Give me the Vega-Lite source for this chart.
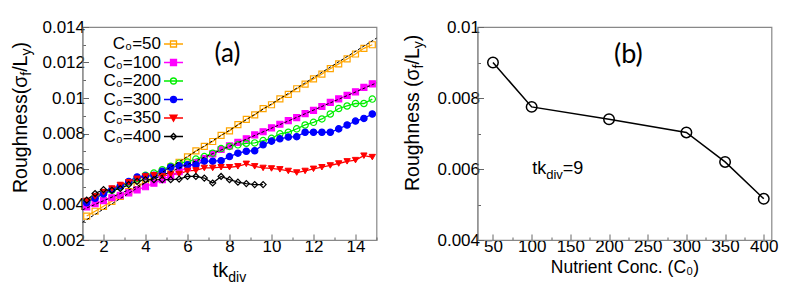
{
  "$schema": "https://vega.github.io/schema/vega-lite/v6.json",
  "padding": {"left": 10.5, "top": 17, "right": 5, "bottom": 5},
  "spacing": 23,
  "background": "white",
  "config": {
    "view": {"stroke": "#888888", "strokeWidth": 1.2},
    "axis": {"domainColor": "#888888", "tickColor": "#666666", "labelFont": "Liberation Sans", "labelFontSize": 17, "labelColor": "black", "grid": false, "titleFont": "Liberation Sans", "titleFontSize": 17.5, "titleFontWeight": "normal", "titleColor": "black"},
    "text": {"font": "Liberation Sans", "color": "black"}
  },
  "datasets": {
    "a": [
      {"s":"50","t":1.2,"v":0.00335},{"s":"50","t":1.6,"v":0.00362},{"s":"50","t":2.0,"v":0.00390},{"s":"50","t":2.4,"v":0.00418},{"s":"50","t":2.8,"v":0.00445},{"s":"50","t":3.2,"v":0.00473},{"s":"50","t":3.6,"v":0.00500},{"s":"50","t":4.0,"v":0.00528},{"s":"50","t":4.4,"v":0.00556},{"s":"50","t":4.8,"v":0.00583},{"s":"50","t":5.2,"v":0.00611},{"s":"50","t":5.6,"v":0.00638},{"s":"50","t":6.0,"v":0.00668},{"s":"50","t":6.4,"v":0.00702},{"s":"50","t":6.8,"v":0.00727},{"s":"50","t":7.2,"v":0.00755},{"s":"50","t":7.6,"v":0.00790},{"s":"50","t":8.0,"v":0.00815},{"s":"50","t":8.4,"v":0.00850},{"s":"50","t":8.8,"v":0.00880},{"s":"50","t":9.2,"v":0.00905},{"s":"50","t":9.6,"v":0.00940},{"s":"50","t":10.0,"v":0.00962},{"s":"50","t":10.4,"v":0.00995},{"s":"50","t":10.8,"v":0.01020},{"s":"50","t":11.2,"v":0.01052},{"s":"50","t":11.6,"v":0.01078},{"s":"50","t":12.0,"v":0.01108},{"s":"50","t":12.4,"v":0.01135},{"s":"50","t":12.8,"v":0.01165},{"s":"50","t":13.2,"v":0.01192},{"s":"50","t":13.6,"v":0.01220},{"s":"50","t":14.0,"v":0.01248},{"s":"50","t":14.4,"v":0.01280},{"s":"50","t":14.8,"v":0.01300},
      {"s":"100","t":1.2,"v":0.00386},{"s":"100","t":1.6,"v":0.00405},{"s":"100","t":2.0,"v":0.00422},{"s":"100","t":2.4,"v":0.00438},{"s":"100","t":2.8,"v":0.00452},{"s":"100","t":3.2,"v":0.00466},{"s":"100","t":3.6,"v":0.00482},{"s":"100","t":4.0,"v":0.00500},{"s":"100","t":4.4,"v":0.00520},{"s":"100","t":4.8,"v":0.00540},{"s":"100","t":5.2,"v":0.00562},{"s":"100","t":5.6,"v":0.00585},{"s":"100","t":6.0,"v":0.00610},{"s":"100","t":6.4,"v":0.00635},{"s":"100","t":6.8,"v":0.00658},{"s":"100","t":7.2,"v":0.00685},{"s":"100","t":7.6,"v":0.00710},{"s":"100","t":8.0,"v":0.00730},{"s":"100","t":8.4,"v":0.00750},{"s":"100","t":8.8,"v":0.00770},{"s":"100","t":9.2,"v":0.00792},{"s":"100","t":9.6,"v":0.00810},{"s":"100","t":10.0,"v":0.00832},{"s":"100","t":10.4,"v":0.00852},{"s":"100","t":10.8,"v":0.00872},{"s":"100","t":11.2,"v":0.00890},{"s":"100","t":11.6,"v":0.00912},{"s":"100","t":12.0,"v":0.00930},{"s":"100","t":12.4,"v":0.00952},{"s":"100","t":12.8,"v":0.00975},{"s":"100","t":13.2,"v":0.00995},{"s":"100","t":13.6,"v":0.01015},{"s":"100","t":14.0,"v":0.01035},{"s":"100","t":14.4,"v":0.01060},{"s":"100","t":14.8,"v":0.01080},
      {"s":"200","t":1.2,"v":0.00415},{"s":"200","t":1.6,"v":0.00440},{"s":"200","t":2.0,"v":0.00460},{"s":"200","t":2.4,"v":0.00480},{"s":"200","t":2.8,"v":0.00500},{"s":"200","t":3.2,"v":0.00522},{"s":"200","t":3.6,"v":0.00545},{"s":"200","t":4.0,"v":0.00565},{"s":"200","t":4.4,"v":0.00577},{"s":"200","t":4.8,"v":0.00596},{"s":"200","t":5.2,"v":0.00615},{"s":"200","t":5.6,"v":0.00633},{"s":"200","t":6.0,"v":0.00640},{"s":"200","t":6.4,"v":0.00656},{"s":"200","t":6.8,"v":0.00670},{"s":"200","t":7.2,"v":0.00689},{"s":"200","t":7.6,"v":0.00715},{"s":"200","t":8.0,"v":0.00727},{"s":"200","t":8.4,"v":0.00736},{"s":"200","t":8.8,"v":0.00745},{"s":"200","t":9.2,"v":0.00747},{"s":"200","t":9.6,"v":0.00760},{"s":"200","t":10.0,"v":0.00773},{"s":"200","t":10.4,"v":0.00798},{"s":"200","t":10.8,"v":0.00807},{"s":"200","t":11.2,"v":0.00826},{"s":"200","t":11.6,"v":0.00848},{"s":"200","t":12.0,"v":0.00863},{"s":"200","t":12.4,"v":0.00882},{"s":"200","t":12.8,"v":0.00910},{"s":"200","t":13.2,"v":0.00941},{"s":"200","t":13.6,"v":0.00955},{"s":"200","t":14.0,"v":0.00969},{"s":"200","t":14.4,"v":0.00969},{"s":"200","t":14.8,"v":0.00994},
      {"s":"300","t":1.2,"v":0.00410},{"s":"300","t":1.6,"v":0.00435},{"s":"300","t":2.0,"v":0.00460},{"s":"300","t":2.4,"v":0.00485},{"s":"300","t":2.8,"v":0.00505},{"s":"300","t":3.2,"v":0.00530},{"s":"300","t":3.6,"v":0.00555},{"s":"300","t":4.0,"v":0.00560},{"s":"300","t":4.4,"v":0.00565},{"s":"300","t":4.8,"v":0.00587},{"s":"300","t":5.2,"v":0.00610},{"s":"300","t":5.6,"v":0.00618},{"s":"300","t":6.0,"v":0.00624},{"s":"300","t":6.4,"v":0.00624},{"s":"300","t":6.8,"v":0.00644},{"s":"300","t":7.2,"v":0.00644},{"s":"300","t":7.6,"v":0.00647},{"s":"300","t":8.0,"v":0.00670},{"s":"300","t":8.4,"v":0.00689},{"s":"300","t":8.8,"v":0.00700},{"s":"300","t":9.2,"v":0.00703},{"s":"300","t":9.6,"v":0.00736},{"s":"300","t":10.0,"v":0.00757},{"s":"300","t":10.4,"v":0.00770},{"s":"300","t":10.8,"v":0.00780},{"s":"300","t":11.2,"v":0.00782},{"s":"300","t":11.6,"v":0.00807},{"s":"300","t":12.0,"v":0.00807},{"s":"300","t":12.4,"v":0.00807},{"s":"300","t":12.8,"v":0.00807},{"s":"300","t":13.2,"v":0.00826},{"s":"300","t":13.6,"v":0.00848},{"s":"300","t":14.0,"v":0.00870},{"s":"300","t":14.4,"v":0.00885},{"s":"300","t":14.8,"v":0.00910},
      {"s":"350","t":1.2,"v":0.00420},{"s":"350","t":1.6,"v":0.00445},{"s":"350","t":2.0,"v":0.00470},{"s":"350","t":2.4,"v":0.00490},{"s":"350","t":2.8,"v":0.00510},{"s":"350","t":3.2,"v":0.00525},{"s":"350","t":3.6,"v":0.00545},{"s":"350","t":4.0,"v":0.00558},{"s":"350","t":4.4,"v":0.00565},{"s":"350","t":4.8,"v":0.00560},{"s":"350","t":5.2,"v":0.00570},{"s":"350","t":5.6,"v":0.00572},{"s":"350","t":6.0,"v":0.00589},{"s":"350","t":6.4,"v":0.00592},{"s":"350","t":6.8,"v":0.00606},{"s":"350","t":7.2,"v":0.00606},{"s":"350","t":7.6,"v":0.00610},{"s":"350","t":8.0,"v":0.00610},{"s":"350","t":8.4,"v":0.00615},{"s":"350","t":8.8,"v":0.00629},{"s":"350","t":9.2,"v":0.00615},{"s":"350","t":9.6,"v":0.00606},{"s":"350","t":10.0,"v":0.00603},{"s":"350","t":10.4,"v":0.00598},{"s":"350","t":10.8,"v":0.00589},{"s":"350","t":11.2,"v":0.00580},{"s":"350","t":11.6,"v":0.00589},{"s":"350","t":12.0,"v":0.00601},{"s":"350","t":12.4,"v":0.00610},{"s":"350","t":12.8,"v":0.00620},{"s":"350","t":13.2,"v":0.00631},{"s":"350","t":13.6,"v":0.00643},{"s":"350","t":14.0,"v":0.00650},{"s":"350","t":14.4,"v":0.00675},{"s":"350","t":14.8,"v":0.00667},
      {"s":"400","t":1.2,"v":0.00425},{"s":"400","t":1.6,"v":0.00462},{"s":"400","t":2.0,"v":0.00484},{"s":"400","t":2.4,"v":0.00480},{"s":"400","t":2.8,"v":0.00490},{"s":"400","t":3.2,"v":0.00512},{"s":"400","t":3.6,"v":0.00530},{"s":"400","t":4.0,"v":0.00540},{"s":"400","t":4.4,"v":0.00540},{"s":"400","t":4.8,"v":0.00540},{"s":"400","t":5.2,"v":0.00540},{"s":"400","t":5.6,"v":0.00543},{"s":"400","t":6.0,"v":0.00558},{"s":"400","t":6.4,"v":0.00558},{"s":"400","t":6.8,"v":0.00549},{"s":"400","t":7.2,"v":0.00521},{"s":"400","t":7.6,"v":0.00558},{"s":"400","t":8.0,"v":0.00540},{"s":"400","t":8.4,"v":0.00526},{"s":"400","t":8.8,"v":0.00518},{"s":"400","t":9.2,"v":0.00512},{"s":"400","t":9.6,"v":0.00512}
    ],
    "fit": [
      {"s":"50","t":1,"v":0.0030},{"s":"50","t":15,"v":0.01337},
      {"s":"100","t":1,"v":0.0037},{"s":"100","t":15,"v":0.01085}
    ],
    "b": [
      {"c":50,"v":0.0090},{"c":100,"v":0.00775},{"c":200,"v":0.0074},{"c":300,"v":0.00703},{"c":350,"v":0.0062},{"c":400,"v":0.00516}
    ]
  },
  "hconcat": [
    {
      "width": 294,
      "height": 213,
      "resolve": {"axis": {"x": "independent", "y": "independent"}},
      "layer": [
        {
          "encoding": {
            "x": {"field": "t", "type": "quantitative", "scale": {"domain": [1, 15], "nice": false, "zero": false},
              "axis": {"title": null, "values": [1,2,3,4,5,6,7,8,9,10,11,12,13,14,15], "format": "d",
                "labelExpr": "datum.value % 2 == 0 ? datum.label : ''",
                "tickSize": {"condition": {"test": "datum.value % 2 == 0", "value": -6}, "value": -3},
                "labelPadding": 4}},
            "y": {"field": "v", "type": "quantitative", "scale": {"domain": [0.002, 0.014], "nice": false, "zero": false},
              "axis": {"title": null, "values": [0.002,0.003,0.004,0.005,0.006,0.007,0.008,0.009,0.01,0.011,0.012,0.013,0.014],
                "labelExpr": "round(datum.value*1000) % 2 == 0 ? format(datum.value, '.3~f') : ''",
                "tickSize": {"condition": {"test": "round(datum.value*1000) % 2 == 0", "value": -6}, "value": -3},
                "labelPadding": 4}}
          },
          "layer": [
            {
              "data": {"name": "a"},
              "mark": {"type": "line", "strokeWidth": 1.3},
              "encoding": {
                "color": {"field": "s", "type": "nominal",
                  "scale": {"domain": ["50","100","200","300","350","400"], "range": ["#FFA500","#FF00FF","#00EE00","#0000FF","#FF0000","#000000"]},
                  "legend": {"orient": "none", "legendX": 82.5, "legendY": 8.5, "title": null,
                    "labelExpr": "'C₀=' + datum.label", "labelFont": "Liberation Sans", "labelFontSize": 17, "labelColor": "black",
                    "labelAlign": "right", "labelOffset": -21, "symbolSize": 100, "symbolStrokeWidth": 1.3, "rowPadding": 0.5,
                    "encode": {"symbols": {"update": {
                      "shape": {"signal": "(datum.value=='50' || datum.value=='100') ? 'M-1.9,0H1.9M-0.6,-0.6H0.6V0.6H-0.6Z' : (datum.value=='200' || datum.value=='300') ? 'M-1.9,0H1.9M-0.6,0A0.6,0.6 0 1,0 0.6,0A0.6,0.6 0 1,0 -0.6,0Z' : datum.value=='350' ? 'M-1.9,0H1.9M-0.7,-0.55H0.7L0,0.65Z' : 'M-1.9,0H1.9M0,-0.6L0.6,0L0,0.6L-0.6,0Z'"},
                      "fill": {"signal": "datum.value=='100' ? '#FF00FF' : datum.value=='300' ? '#0000FF' : datum.value=='350' ? '#FF0000' : 'transparent'"}
                    }}}}
                }
              }
            },
            {
              "data": {"name": "a"},
              "transform": [{"filter": "datum.s == '50' || datum.s == '100'"}],
              "mark": {"type": "point", "shape": "square", "filled": false, "strokeWidth": 1.2, "opacity": 1, "size": 36},
              "encoding": {
                "color": {"field": "s", "type": "nominal", "legend": null},
                "fill": {"field": "s", "type": "nominal", "legend": null,
                  "scale": {"domain": ["50","100","200","300","350","400"], "range": ["transparent","#FF00FF","transparent","#0000FF","#FF0000","transparent"]}}
              }
            },
            {
              "data": {"name": "a"},
              "transform": [{"filter": "datum.s == '200' || datum.s == '300'"}],
              "mark": {"type": "point", "shape": "circle", "filled": false, "strokeWidth": 1.2, "opacity": 1, "size": 40},
              "encoding": {
                "color": {"field": "s", "type": "nominal", "legend": null},
                "fill": {"field": "s", "type": "nominal", "legend": null}
              }
            },
            {
              "data": {"name": "a"},
              "transform": [{"filter": "datum.s == '350'"}],
              "mark": {"type": "point", "shape": "triangle-down", "filled": false, "strokeWidth": 1, "opacity": 1, "size": 40},
              "encoding": {
                "color": {"field": "s", "type": "nominal", "legend": null},
                "fill": {"field": "s", "type": "nominal", "legend": null}
              }
            },
            {
              "data": {"name": "a"},
              "transform": [{"filter": "datum.s == '400'"}],
              "mark": {"type": "point", "shape": "diamond", "filled": false, "strokeWidth": 1.2, "opacity": 1, "size": 36},
              "encoding": {
                "color": {"field": "s", "type": "nominal", "legend": null},
                "fill": {"field": "s", "type": "nominal", "legend": null}
              }
            },
            {
              "data": {"name": "fit"},
              "mark": {"type": "line", "color": "black", "strokeWidth": 1, "strokeDash": [3, 2]},
              "encoding": {"detail": {"field": "s"}}
            }
          ]
        },
        {
          "data": {"values": [{"label": "(a)"}]},
          "mark": {"type": "text", "font": "Lato", "fontSize": 26, "align": "center", "baseline": "middle"},
          "encoding": {"x": {"datum": 7.9, "type": "quantitative", "axis": null}, "y": {"datum": 0.01247, "type": "quantitative", "axis": null}, "text": {"field": "label"}}
        },
        {
          "data": {"values": [{"label": "tk"}]},
          "mark": {"type": "text", "fontSize": 20, "align": "left", "baseline": "alphabetic"},
          "encoding": {"x": {"datum": 7.2, "type": "quantitative", "axis": null}, "y": {"datum": -0.00011, "type": "quantitative", "axis": null}, "text": {"field": "label"}}
        },
        {
          "data": {"values": [{"label": "div"}]},
          "mark": {"type": "text", "fontSize": 14, "align": "left", "baseline": "alphabetic", "dx": 15.6, "dy": 5},
          "encoding": {"x": {"datum": 7.2, "type": "quantitative", "axis": null}, "y": {"datum": -0.00011, "type": "quantitative", "axis": null}, "text": {"field": "label"}}
        },
        {
          "data": {"values": [{"label": "Roughness(σ"}]},
          "mark": {"type": "text", "fontSize": 19.5, "angle": 270, "align": "left", "baseline": "alphabetic", "dx": 0},
          "encoding": {"x": {"datum": -1.63, "type": "quantitative", "axis": null}, "y": {"datum": 0.00465, "type": "quantitative", "axis": null}, "text": {"field": "label"}}
        },
        {
          "data": {"values": [{"label": "f"}]},
          "mark": {"type": "text", "fontSize": 14, "angle": 270, "align": "left", "baseline": "alphabetic", "dx": 117.2, "dy": 4},
          "encoding": {"x": {"datum": -1.63, "type": "quantitative", "axis": null}, "y": {"datum": 0.00465, "type": "quantitative", "axis": null}, "text": {"field": "label"}}
        },
        {
          "data": {"values": [{"label": "/L"}]},
          "mark": {"type": "text", "fontSize": 19.5, "angle": 270, "align": "left", "baseline": "alphabetic", "dx": 121.1},
          "encoding": {"x": {"datum": -1.63, "type": "quantitative", "axis": null}, "y": {"datum": 0.00465, "type": "quantitative", "axis": null}, "text": {"field": "label"}}
        },
        {
          "data": {"values": [{"label": "y"}]},
          "mark": {"type": "text", "fontSize": 14, "angle": 270, "align": "left", "baseline": "alphabetic", "dx": 137.4, "dy": 4},
          "encoding": {"x": {"datum": -1.63, "type": "quantitative", "axis": null}, "y": {"datum": 0.00465, "type": "quantitative", "axis": null}, "text": {"field": "label"}}
        },
        {
          "data": {"values": [{"label": ")"}]},
          "mark": {"type": "text", "fontSize": 19.5, "angle": 270, "align": "left", "baseline": "alphabetic", "dx": 144.4},
          "encoding": {"x": {"datum": -1.63, "type": "quantitative", "axis": null}, "y": {"datum": 0.00465, "type": "quantitative", "axis": null}, "text": {"field": "label"}}
        }
      ]
    },
    {
      "width": 294,
      "height": 213,
      "resolve": {"axis": {"x": "independent", "y": "independent"}},
      "layer": [
        {
          "encoding": {
            "x": {"field": "c", "type": "quantitative", "scale": {"domain": [30, 410], "nice": false, "zero": false},
              "axis": {"title": "Nutrient Conc. (C₀)", "titlePadding": 4, "values": [50,75,100,125,150,175,200,225,250,275,300,325,350,375,400],
                "labelExpr": "datum.value % 50 == 0 ? datum.label : ''",
                "tickSize": {"condition": {"test": "datum.value % 50 == 0", "value": -6}, "value": -3},
                "labelPadding": 4}},
            "y": {"field": "v", "type": "quantitative", "scale": {"domain": [0.004, 0.01], "nice": false, "zero": false},
              "axis": {"title": null, "values": [0.004,0.005,0.006,0.007,0.008,0.009,0.01],
                "labelExpr": "round(datum.value*1000) % 2 == 0 ? format(datum.value, '.3~f') : ''",
                "tickSize": {"condition": {"test": "round(datum.value*1000) % 2 == 0", "value": -6}, "value": -3},
                "labelPadding": 4}}
          },
          "layer": [
            {
              "data": {"name": "b"},
              "mark": {"type": "line", "color": "black", "strokeWidth": 1.5}
            },
            {
              "data": {"name": "b"},
              "mark": {"type": "point", "shape": "circle", "filled": false, "color": "black", "strokeWidth": 1.5, "size": 110, "opacity": 1}
            }
          ]
        },
        {
          "data": {"values": [{"label": "(b)"}]},
          "mark": {"type": "text", "font": "Lato", "fontSize": 27, "align": "center", "baseline": "middle"},
          "encoding": {"x": {"datum": 225, "type": "quantitative", "axis": null}, "y": {"datum": 0.00922, "type": "quantitative", "axis": null}, "text": {"field": "label"}}
        },
        {
          "data": {"values": [{"label": "tk"}]},
          "mark": {"type": "text", "fontSize": 18, "align": "left", "baseline": "alphabetic"},
          "encoding": {"x": {"datum": 100.7, "type": "quantitative", "axis": null}, "y": {"datum": 0.00585, "type": "quantitative", "axis": null}, "text": {"field": "label"}}
        },
        {
          "data": {"values": [{"label": "div"}]},
          "mark": {"type": "text", "fontSize": 13, "align": "left", "baseline": "alphabetic", "dx": 14, "dy": 5},
          "encoding": {"x": {"datum": 100.7, "type": "quantitative", "axis": null}, "y": {"datum": 0.00585, "type": "quantitative", "axis": null}, "text": {"field": "label"}}
        },
        {
          "data": {"values": [{"label": "=9"}]},
          "mark": {"type": "text", "fontSize": 18, "align": "left", "baseline": "alphabetic", "dx": 30.6},
          "encoding": {"x": {"datum": 100.7, "type": "quantitative", "axis": null}, "y": {"datum": 0.00585, "type": "quantitative", "axis": null}, "text": {"field": "label"}}
        },
        {
          "data": {"values": [{"label": "Roughness (σ"}]},
          "mark": {"type": "text", "fontSize": 19.5, "angle": 270, "align": "left", "baseline": "alphabetic", "dx": 0},
          "encoding": {"x": {"datum": -45.4, "type": "quantitative", "axis": null}, "y": {"datum": 0.00538, "type": "quantitative", "axis": null}, "text": {"field": "label"}}
        },
        {
          "data": {"values": [{"label": "f"}]},
          "mark": {"type": "text", "fontSize": 14, "angle": 270, "align": "left", "baseline": "alphabetic", "dx": 122.6, "dy": 4},
          "encoding": {"x": {"datum": -45.4, "type": "quantitative", "axis": null}, "y": {"datum": 0.00538, "type": "quantitative", "axis": null}, "text": {"field": "label"}}
        },
        {
          "data": {"values": [{"label": "/L"}]},
          "mark": {"type": "text", "fontSize": 19.5, "angle": 270, "align": "left", "baseline": "alphabetic", "dx": 126.5},
          "encoding": {"x": {"datum": -45.4, "type": "quantitative", "axis": null}, "y": {"datum": 0.00538, "type": "quantitative", "axis": null}, "text": {"field": "label"}}
        },
        {
          "data": {"values": [{"label": "y"}]},
          "mark": {"type": "text", "fontSize": 14, "angle": 270, "align": "left", "baseline": "alphabetic", "dx": 142.8, "dy": 4},
          "encoding": {"x": {"datum": -45.4, "type": "quantitative", "axis": null}, "y": {"datum": 0.00538, "type": "quantitative", "axis": null}, "text": {"field": "label"}}
        },
        {
          "data": {"values": [{"label": ")"}]},
          "mark": {"type": "text", "fontSize": 19.5, "angle": 270, "align": "left", "baseline": "alphabetic", "dx": 149.8},
          "encoding": {"x": {"datum": -45.4, "type": "quantitative", "axis": null}, "y": {"datum": 0.00538, "type": "quantitative", "axis": null}, "text": {"field": "label"}}
        }
      ]
    }
  ]
}
